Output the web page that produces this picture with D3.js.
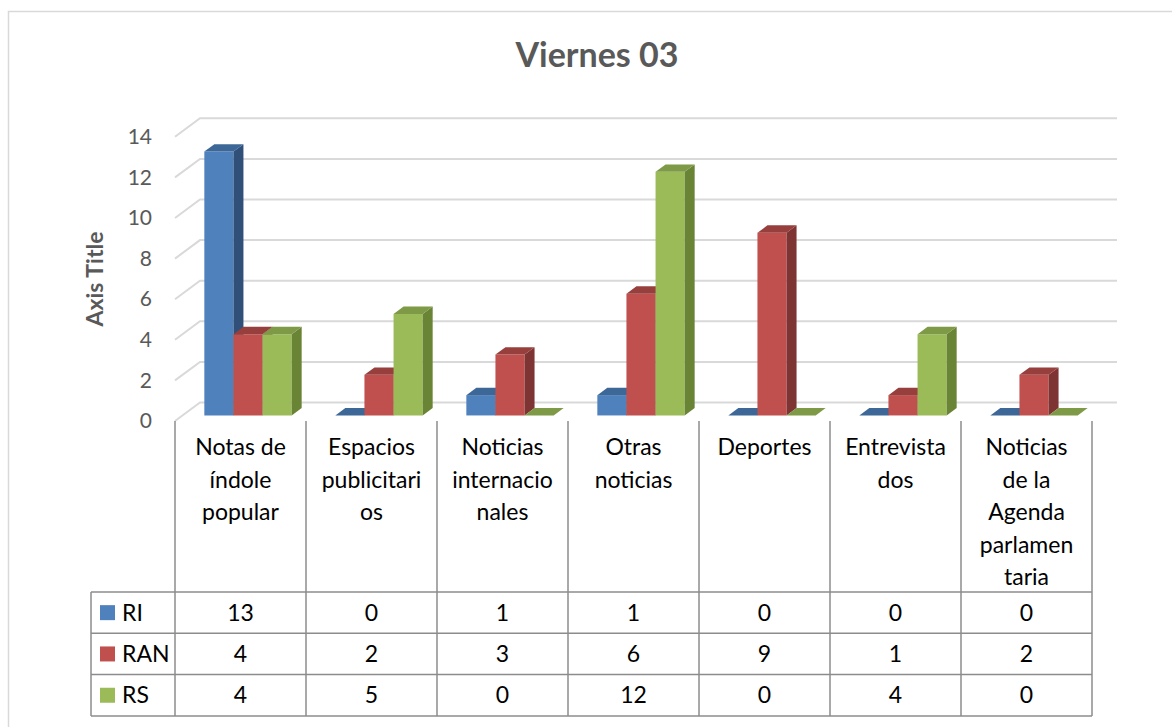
<!DOCTYPE html>
<html>
<head>
<meta charset="utf-8">
<script src="https://cdn.jsdelivr.net/npm/d3@7"></script>
<style>
  html, body { margin: 0; padding: 0; background: #fff; }
  svg { display: block; font-family: Lato, "Open Sans", sans-serif; }
</style>
</head>
<body>
<svg id="chart" width="1172" height="727"></svg>
<script>
// data
var categories = ['Notas de índole popular', 'Espacios publicitarios', 'Noticias internacionales',
    'Otras noticias', 'Deportes', 'Entrevistados', 'Noticias de la Agenda parlamentaria'];
// the way the labels wrap inside the table header
var categoryLines = [
    ['Notas de', 'índole', 'popular'],
    ['Espacios', 'publicitari', 'os'],
    ['Noticias', 'internacio', 'nales'],
    ['Otras', 'noticias'],
    ['Deportes'],
    ['Entrevista', 'dos'],
    ['Noticias', 'de la', 'Agenda', 'parlamen', 'taria']
];
var seriesNames = ['RI', 'RAN', 'RS'];
var riValues = [13, 0, 1, 1, 0, 0, 0];
var ranValues = [4, 2, 3, 6, 9, 1, 2];
var rsValues = [4, 5, 0, 12, 0, 4, 0];
var yTicks = [0, 2, 4, 6, 8, 10, 12, 14];

var seriesValues = [riValues, ranValues, rsValues];
var faceColors = [
    { front: '#4F81BD', top: '#3D6797', side: '#30507A' },
    { front: '#C0504D', top: '#973F3D', side: '#7E3432' },
    { front: '#9BBB59', top: '#7E9A47', side: '#6A8436' }
];

var svg = d3.select('#chart');

// chart frame (runs off the right and bottom of the picture)
svg.append('rect')
    .attr('x', 8.5).attr('y', 11.5)
    .attr('width', 1300).attr('height', 900)
    .attr('fill', 'none').attr('stroke', '#D9D9D9').attr('stroke-width', 1.5);

// scales: x and y are in the front plane, depth shifts by (DX, DY)
var DX = 25, DY = -18.5;
var x = d3.scaleBand().domain(categories).range([175, 1092]);
var xs = d3.scaleBand().domain(seriesNames).range([0, x.bandwidth()]).paddingInner(0).paddingOuter(0.75);
var y = d3.scaleLinear().domain([0, 14]).range([421, 136.8]);

function pt(px, v, d) {
    return [px + d * DX, y(v) + d * DY];
}
function poly(points) {
    return 'M' + points.map(function (p) { return p[0] + ',' + p[1]; }).join('L') + 'Z';
}

// gridlines on side and back wall
var grid = svg.append('g');
yTicks.forEach(function (v) {
    var a = pt(175, v, 0), b = pt(175, v, 1), c = pt(1092, v, 1);
    grid.append('path')
        .attr('d', 'M' + a + 'L' + b + 'L' + c)
        .attr('fill', 'none').attr('stroke', '#D9D9D9').attr('stroke-width', 2);
});

// value axis labels
var yAxis = svg.append('g')
    .attr('transform', 'translate(155,0)')
    .call(d3.axisLeft(y).tickValues(yTicks).tickSize(0).tickPadding(3));
yAxis.select('.domain').remove();
yAxis.selectAll('text')
    .attr('font-size', 21).attr('fill', '#595959')
    .style('font-family', 'Lato, "Open Sans", sans-serif');

// 3D columns
var D0 = 0.3, D1 = 0.7;
var bars = svg.append('g');
categories.forEach(function (cat, ci) {
    seriesNames.forEach(function (s, si) {
        var v = seriesValues[si][ci];
        var x0 = x(cat) + xs(s), x1 = x0 + xs.bandwidth();
        var col = faceColors[si];
        var g = bars.append('g');
        if (v > 0) {
            g.append('path')
                .attr('d', poly([pt(x0, v, D0), pt(x1, v, D0), pt(x1, 0, D0), pt(x0, 0, D0)]))
                .attr('fill', col.front);
            g.append('path')
                .attr('d', poly([pt(x1, v, D0), pt(x1, v, D1), pt(x1, 0, D1), pt(x1, 0, D0)]))
                .attr('fill', col.side);
        }
        g.append('path')
            .attr('d', poly([pt(x0, v, D0), pt(x1, v, D0), pt(x1, v, D1), pt(x0, v, D1)]))
            .attr('fill', col.top);
    });
});

// title
svg.append('text')
    .attr('x', 597).attr('y', 67)
    .attr('text-anchor', 'middle')
    .attr('font-size', 34).attr('font-weight', 'bold').attr('fill', '#595959')
    .text('Viernes 03');

// axis title
svg.append('text')
    .attr('transform', 'translate(103,279) rotate(-90)')
    .attr('text-anchor', 'middle')
    .attr('font-size', 23).attr('font-weight', 'bold').attr('fill', '#595959')
    .text('Axis Title');

// data table
var tableTop = 421, headBottom = 592, rowH = 41.3, legendLeft = 91;
var tableBottom = headBottom + rowH * seriesNames.length;
var table = svg.append('g')
    .attr('stroke', '#8C8C8C').attr('stroke-width', 1.5);
x.domain().concat([null]).forEach(function (cat) {
    var lx = cat === null ? x.range()[1] : x(cat);
    table.append('line')
        .attr('x1', lx).attr('x2', lx)
        .attr('y1', tableTop).attr('y2', tableBottom);
});
table.append('line')
    .attr('x1', legendLeft).attr('x2', legendLeft)
    .attr('y1', headBottom).attr('y2', tableBottom);
d3.range(seriesNames.length + 1).forEach(function (i) {
    var ly = headBottom + i * rowH;
    table.append('line')
        .attr('x1', legendLeft).attr('x2', x.range()[1])
        .attr('y1', ly).attr('y2', ly);
});

// header labels
categories.forEach(function (cat, ci) {
    var t = svg.append('text')
        .attr('text-anchor', 'middle')
        .attr('font-size', 23).attr('fill', '#000');
    categoryLines[ci].forEach(function (line, li) {
        t.append('tspan')
            .attr('x', x(cat) + x.bandwidth() / 2)
            .attr('y', 455 + li * 32.5)
            .text(line);
    });
});

// value rows with legend keys
seriesNames.forEach(function (s, si) {
    var cy = headBottom + si * rowH + rowH / 2;
    svg.append('rect')
        .attr('x', 100).attr('y', cy - 7.5)
        .attr('width', 15).attr('height', 15)
        .attr('fill', faceColors[si].front);
    svg.append('text')
        .attr('x', 122).attr('y', cy + 8)
        .attr('font-size', 23).attr('fill', '#000')
        .text(s);
    categories.forEach(function (cat, ci) {
        svg.append('text')
            .attr('x', x(cat) + x.bandwidth() / 2).attr('y', cy + 8)
            .attr('text-anchor', 'middle')
            .attr('font-size', 23).attr('fill', '#000')
            .text(seriesValues[si][ci]);
    });
});
</script>
</body>
</html>
